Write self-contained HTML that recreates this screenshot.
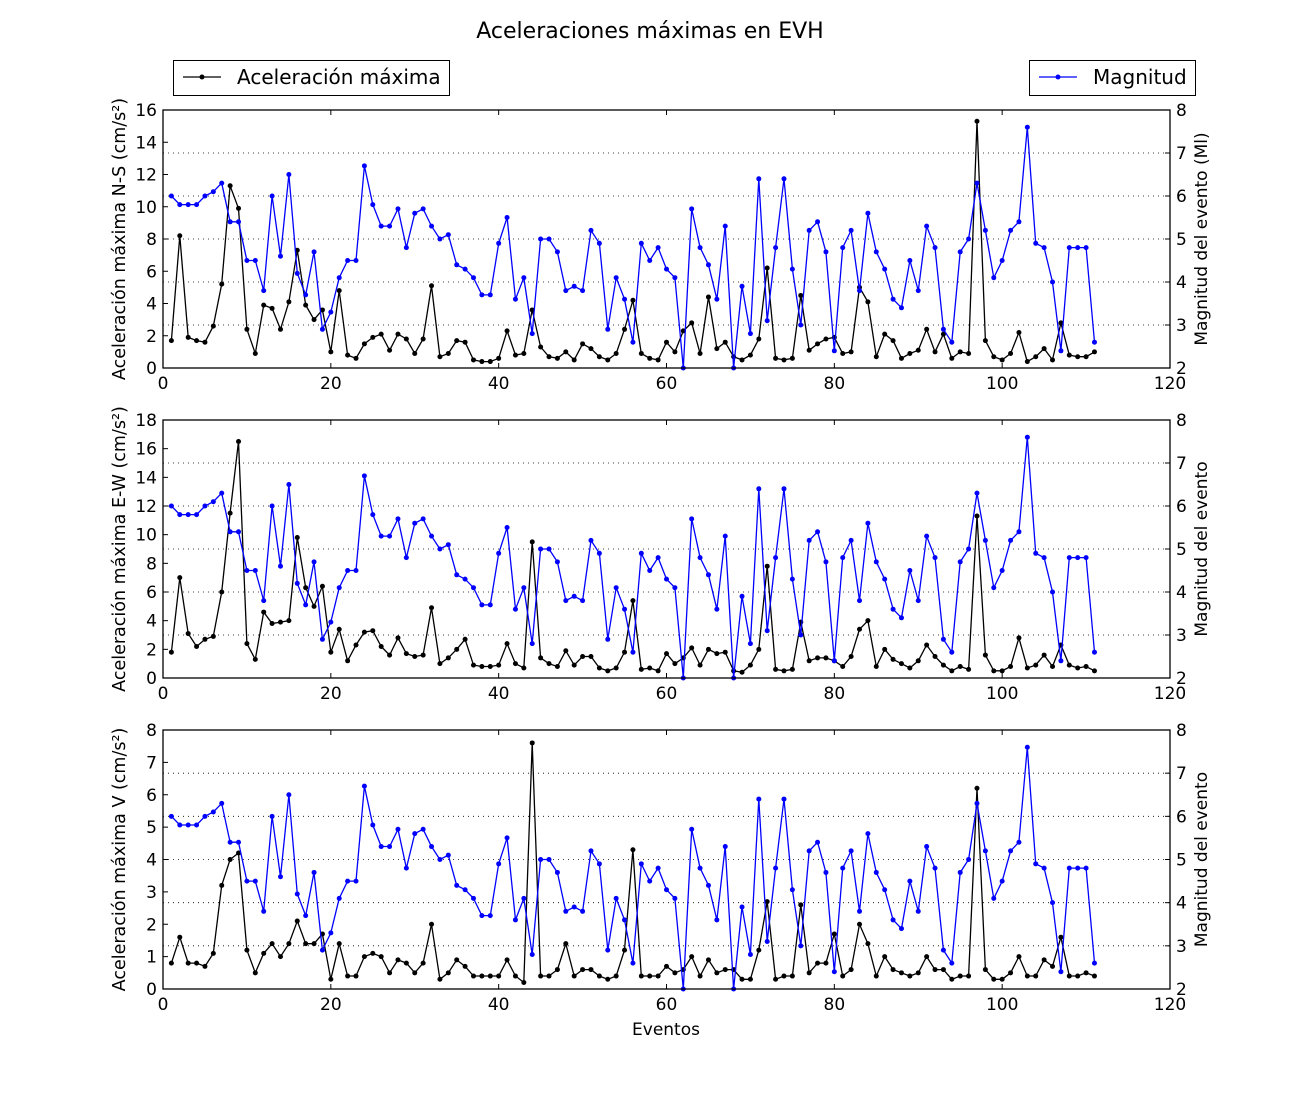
<!DOCTYPE html>
<html><head><meta charset="utf-8"><style>
html,body{margin:0;padding:0;background:#fff}
svg{display:block;font-family:"DejaVu Sans","Liberation Sans",sans-serif}
</style></head><body>
<svg id="chart" width="1300" height="1100" viewBox="0 0 1300 1100">
<text x="650" y="38" text-anchor="middle" font-size="22">Aceleraciones máximas en EVH</text>
<g>
<rect x="173.5" y="60.5" width="276" height="35" fill="#fff" stroke="#000"/>
<line x1="183" y1="77" x2="221" y2="77" stroke="#000" stroke-width="1.3"/>
<circle cx="202" cy="77" r="2.5" fill="#000"/>
<text x="237" y="84" font-size="20">Aceleración máxima</text>
</g>
<g>
<rect x="1029.5" y="60.5" width="166" height="35" fill="#fff" stroke="#000"/>
<line x1="1039" y1="77" x2="1077" y2="77" stroke="#00f" stroke-width="1.3"/>
<circle cx="1058" cy="77" r="2.5" fill="#00f"/>
<text x="1093" y="84" font-size="20">Magnitud</text>
</g>
<g id="panels"></g>
<text x="666" y="1035" text-anchor="middle" font-size="17">Eventos</text>
</svg>
<script>
const magnitude=[6.0,5.8,5.8,5.8,6.0,6.1,6.3,5.4,5.4,4.5,4.5,3.8,6.0,4.6,6.5,4.2,3.7,4.7,2.9,3.3,4.1,4.5,4.5,6.7,5.8,5.3,5.3,5.7,4.8,5.6,5.7,5.3,5.0,5.1,4.4,4.3,4.1,3.7,3.7,4.9,5.5,3.6,4.1,2.8,5.0,5.0,4.7,3.8,3.9,3.8,5.2,4.9,2.9,4.1,3.6,2.6,4.9,4.5,4.8,4.3,4.1,2.0,5.7,4.8,4.4,3.6,5.3,2.0,3.9,2.8,6.4,3.1,4.8,6.4,4.3,3.0,5.2,5.4,4.7,2.4,4.8,5.2,3.8,5.6,4.7,4.3,3.6,3.4,4.5,3.8,5.3,4.8,2.9,2.6,4.7,5.0,6.3,5.2,4.1,4.5,5.2,5.4,7.6,4.9,4.8,4.0,2.4,4.8,4.8,4.8,2.6];
const accNS=[1.7,8.2,1.9,1.7,1.6,2.6,5.2,11.3,9.9,2.4,0.9,3.9,3.7,2.4,4.1,7.3,3.9,3.0,3.6,1.0,4.8,0.8,0.6,1.5,1.9,2.1,1.1,2.1,1.8,0.9,1.8,5.1,0.7,0.9,1.7,1.6,0.5,0.4,0.4,0.6,2.3,0.8,0.9,3.6,1.3,0.7,0.6,1.0,0.5,1.5,1.2,0.7,0.5,0.9,2.4,4.2,0.9,0.6,0.5,1.6,1.0,2.3,2.8,0.9,4.4,1.2,1.6,0.7,0.5,0.8,1.8,6.2,0.6,0.5,0.6,4.5,1.1,1.5,1.8,1.9,0.9,1.0,5.0,4.1,0.7,2.1,1.7,0.6,0.9,1.1,2.4,1.0,2.1,0.6,1.0,0.9,15.3,1.7,0.7,0.5,0.9,2.2,0.4,0.7,1.2,0.5,2.8,0.8,0.7,0.7,1.0];
const accEW=[1.8,7.0,3.1,2.2,2.7,2.9,6.0,11.5,16.5,2.4,1.3,4.6,3.8,3.9,4.0,9.8,6.3,5.0,6.4,1.8,3.4,1.2,2.3,3.2,3.3,2.2,1.6,2.8,1.7,1.5,1.6,4.9,1.0,1.4,2.0,2.7,0.9,0.8,0.8,0.9,2.4,1.0,0.7,9.5,1.4,1.0,0.8,1.9,0.9,1.5,1.5,0.7,0.5,0.7,1.8,5.4,0.6,0.7,0.5,1.7,1.0,1.4,2.1,0.9,2.0,1.7,1.8,0.5,0.4,0.9,2.0,7.8,0.6,0.5,0.6,3.9,1.2,1.4,1.4,1.2,0.8,1.5,3.4,4.0,0.8,2.0,1.3,1.0,0.7,1.2,2.3,1.5,0.9,0.5,0.8,0.6,11.3,1.6,0.5,0.5,0.8,2.8,0.7,0.9,1.6,0.8,2.3,0.9,0.7,0.8,0.5];
const accV=[0.8,1.6,0.8,0.8,0.7,1.1,3.2,4.0,4.2,1.2,0.5,1.1,1.4,1.0,1.4,2.1,1.4,1.4,1.7,0.3,1.4,0.4,0.4,1.0,1.1,1.0,0.5,0.9,0.8,0.5,0.8,2.0,0.3,0.5,0.9,0.7,0.4,0.4,0.4,0.4,0.9,0.4,0.2,7.6,0.4,0.4,0.6,1.4,0.4,0.6,0.6,0.4,0.3,0.4,1.2,4.3,0.4,0.4,0.4,0.7,0.5,0.6,1.0,0.4,0.9,0.5,0.6,0.6,0.3,0.3,1.2,2.7,0.3,0.4,0.4,2.6,0.5,0.8,0.8,1.7,0.4,0.6,2.0,1.4,0.4,1.0,0.6,0.5,0.4,0.5,1.0,0.6,0.6,0.3,0.4,0.4,6.2,0.6,0.3,0.3,0.5,1.0,0.4,0.4,0.9,0.7,1.6,0.4,0.4,0.5,0.4];
const xTicks=[0,20,40,60,80,100,120];
const magTicks=[2,3,4,5,6,7,8];
const ticksNS=[0,2,4,6,8,10,12,14,16];
const ticksEW=[0,2,4,6,8,10,12,14,16,18];
const ticksV=[0,1,2,3,4,5,6,7,8];

const NS='http://www.w3.org/2000/svg';
const X0=163,X1=1170;
const xs=v=>X0+(v-0)/(120-0)*(X1-X0);
function mk(tag,attrs,parent){const e=document.createElementNS(NS,tag);for(const k in attrs)e.setAttribute(k,attrs[k]);parent.appendChild(e);return e;}
const root=document.getElementById('panels');
const panels=[
 {top:110,bot:368,data:accNS,ticks:ticksNS,max:16,label:'Aceleración máxima N-S (cm/s²)',rlabel:'Magnitud del evento (Ml)',name:'ns'},
 {top:420,bot:678,data:accEW,ticks:ticksEW,max:18,label:'Aceleración máxima E-W (cm/s²)',rlabel:'Magnitud del evento',name:'ew'},
 {top:730,bot:989,data:accV,ticks:ticksV,max:8,label:'Aceleración máxima V (cm/s²)',rlabel:'Magnitud del evento',name:'v'}
];
panels.forEach(p=>{
 const g=mk('g',{},root);
 
 
 const yl=v=>p.bot-(v/p.max)*(p.bot-p.top);
 const yr=v=>p.bot-((v-2)/6)*(p.bot-p.top);
 magTicks.forEach(t=>{if(t>2&&t<8){const l=mk('line',{x1:X0,x2:X1,y1:yr(t),y2:yr(t),stroke:'#000','stroke-width':0.8,'stroke-dasharray':'1,4'},g);
 
 }});
 const drawSeries=(arr,ys,col,nm)=>{
  const sg=mk('g',{},g);
  
  
  const pts=arr.map((v,i)=>xs(i+1).toFixed(1)+','+ys(v).toFixed(1)).join(' ');
  mk('polyline',{points:pts,fill:'none',stroke:col,'stroke-width':1.3},sg);
  arr.forEach((v,i)=>{const c=mk('circle',{cx:xs(i+1),cy:ys(v),r:2.5,fill:col},sg);
   
   });
 };
 drawSeries(p.data,yl,'#000','series-acceleration-'+p.name);
 drawSeries(magnitude,yr,'#00f','series-magnitude-'+p.name);
 const fr=mk('rect',{x:X0,y:p.top,width:X1-X0,height:p.bot-p.top,fill:'none',stroke:'#000','stroke-width':1.3},g);
 
 
 xTicks.forEach(t=>{const x=xs(t);
  mk('line',{x1:x,x2:x,y1:p.bot,y2:p.bot-5,stroke:'#000'},g);
  mk('line',{x1:x,x2:x,y1:p.top,y2:p.top+5,stroke:'#000'},g);
  const tx=mk('text',{x:x,y:p.bot+21,'text-anchor':'middle','font-size':17},g);tx.textContent=t;
  
  });
 p.ticks.forEach(t=>{const y=yl(t);
  mk('line',{x1:X0,x2:X0+5,y1:y,y2:y,stroke:'#000'},g);
  const tx=mk('text',{x:X0-6,y:y+6,'text-anchor':'end','font-size':17},g);tx.textContent=t;
  
  });
 magTicks.forEach(t=>{const y=yr(t);
  mk('line',{x1:X1,x2:X1-5,y1:y,y2:y,stroke:'#000'},g);
  const tx=mk('text',{x:X1+6,y:y+6,'text-anchor':'start','font-size':17},g);tx.textContent=t;
  
  });
 const cy=(p.top+p.bot)/2;
 const lt=mk('text',{x:0,y:0,'text-anchor':'middle','font-size':17.5,transform:`translate(125,${cy}) rotate(-90)`},g);lt.textContent=p.label;
 
 
 const rt=mk('text',{x:0,y:0,'text-anchor':'middle','font-size':17,transform:`translate(1207,${cy}) rotate(-90)`},g);rt.textContent=p.rlabel;
 
 
});
</script>
</body></html>
